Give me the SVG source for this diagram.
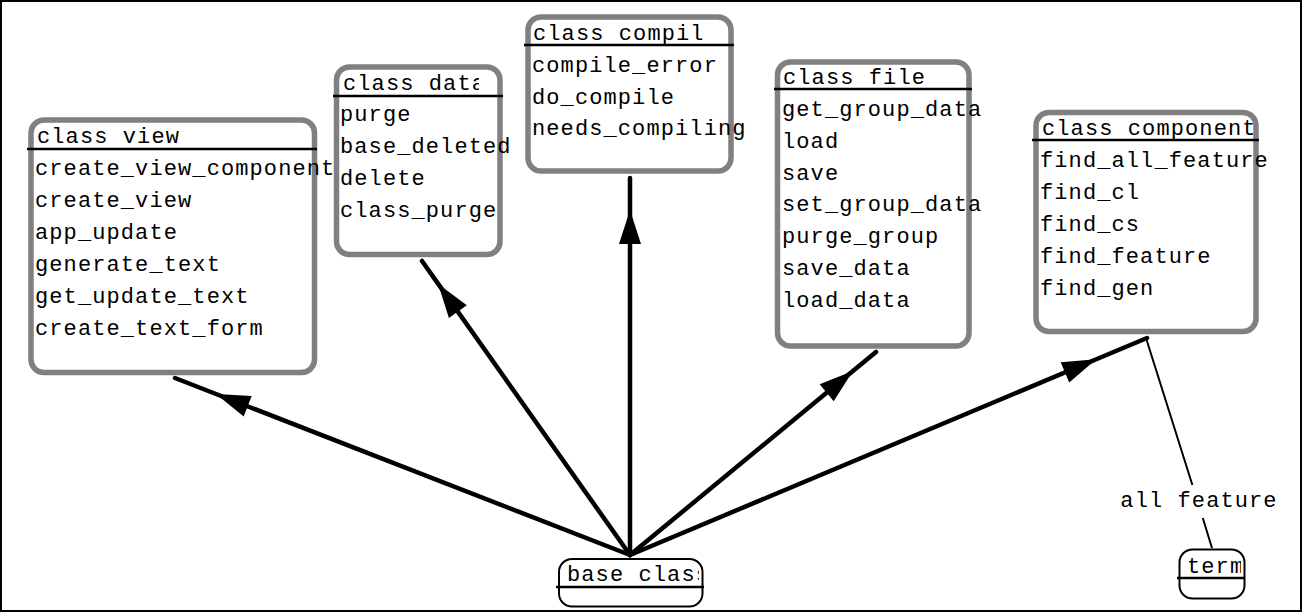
<svg xmlns="http://www.w3.org/2000/svg" width="1309" height="612" viewBox="0 0 1309 612">
<style>
.box{fill:#fff;stroke:#808080;stroke-width:5.5}
.small{fill:#fff;stroke:#000;stroke-width:2}
.hdr{stroke:#000;stroke-width:2.5}
.t{font-family:"Liberation Mono","DejaVu Sans Mono",monospace;font-size:22px;letter-spacing:1.1px;fill:#000}
.edge{fill:none;stroke:#000;stroke-width:4.5;stroke-linecap:round;stroke-linejoin:round}
.thin{fill:none;stroke:#000;stroke-width:2}
</style>
<defs>
<marker id="ah" markerUnits="userSpaceOnUse" orient="auto" viewBox="-36 -12 37 24" refX="0" refY="0" markerWidth="37" markerHeight="24" overflow="visible">
<path d="M0,0 L-34,-11 L-34,11 Z" fill="#000"/>
</marker>
<clipPath id="cData"><rect x="336" y="67" width="143" height="29"/></clipPath>
<clipPath id="cComp"><rect x="1036" y="112" width="217" height="28"/></clipPath>
<clipPath id="cBase"><rect x="559" y="559" width="140" height="28"/></clipPath>
<clipPath id="cTerm"><rect x="1180" y="550" width="61" height="28"/></clipPath>
</defs>
<rect x="1" y="1" width="1300" height="610" fill="#fff" stroke="#000" stroke-width="2"/>

<g id="connectors">
<path class="edge" d="M630,555 L216,394 L175,378" marker-mid="url(#ah)"/>
<path class="edge" d="M630,555 L438.2,283.9 L422,261" marker-mid="url(#ah)"/>
<path class="edge" d="M630,555 L630,210 L630,178" marker-mid="url(#ah)"/>
<path class="edge" d="M630,555 L852.9,371.1 L876,352" marker-mid="url(#ah)"/>
<path class="edge" d="M630,555 L1096.3,359.3 L1147,338" marker-mid="url(#ah)"/>
<path class="thin" d="M1146,338 L1192.4,485 M1202.8,518 L1212,548"/>
<text class="t" x="1199" y="507" text-anchor="middle">all feature</text>
</g>

<g id="class_view">
<rect class="box" x="31" y="120" width="283.5" height="252.5" rx="13"/>
<line class="hdr" x1="27" y1="149" x2="317" y2="149"/>
<text class="t" x="37" y="143">class view</text>
<text class="t" x="35" y="175">create_view_component</text>
<text class="t" x="35" y="207">create_view</text>
<text class="t" x="35" y="239">app_update</text>
<text class="t" x="35" y="271">generate_text</text>
<text class="t" x="35" y="303">get_update_text</text>
<text class="t" x="35" y="335">create_text_form</text>
</g>

<g id="class_data">
<rect class="box" x="336.5" y="67" width="163.5" height="187.5" rx="13"/>
<line class="hdr" x1="333" y1="96" x2="503" y2="96"/>
<text class="t" x="343" y="90" clip-path="url(#cData)">class data</text>
<text class="t" x="340" y="121">purge</text>
<text class="t" x="340" y="153">base_deleted</text>
<text class="t" x="340" y="185">delete</text>
<text class="t" x="340" y="217">class_purge</text>
</g>

<g id="class_compil">
<rect class="box" x="528" y="17" width="203" height="154" rx="13"/>
<line class="hdr" x1="524" y1="45" x2="734" y2="45"/>
<text class="t" x="533" y="40">class compil</text>
<text class="t" x="532" y="72">compile_error</text>
<text class="t" x="532" y="103.5">do_compile</text>
<text class="t" x="532" y="135">needs_compiling</text>
</g>

<g id="class_file">
<rect class="box" x="777.5" y="62" width="191.5" height="284" rx="13"/>
<line class="hdr" x1="774" y1="89" x2="972" y2="89"/>
<text class="t" x="783" y="84">class file</text>
<text class="t" x="782" y="116">get_group_data</text>
<text class="t" x="782" y="147.8">load</text>
<text class="t" x="782" y="179.6">save</text>
<text class="t" x="782" y="211.4">set_group_data</text>
<text class="t" x="782" y="243.2">purge_group</text>
<text class="t" x="782" y="275">save_data</text>
<text class="t" x="782" y="306.8">load_data</text>
</g>

<g id="class_component">
<rect class="box" x="1036" y="112.5" width="220" height="219" rx="13"/>
<line class="hdr" x1="1032" y1="140" x2="1259" y2="140"/>
<text class="t" x="1042" y="135" clip-path="url(#cComp)">class component</text>
<text class="t" x="1040" y="167">find_all_feature</text>
<text class="t" x="1040" y="199">find_cl</text>
<text class="t" x="1040" y="231">find_cs</text>
<text class="t" x="1040" y="263">find_feature</text>
<text class="t" x="1040" y="295">find_gen</text>
</g>

<g id="base_class">
<rect class="small" x="559" y="559" width="143.5" height="47.5" rx="13"/>
<line class="hdr" x1="556" y1="587" x2="704" y2="587"/>
<text class="t" x="567" y="581" clip-path="url(#cBase)">base class</text>
</g>

<g id="term">
<rect class="small" x="1179.5" y="549.5" width="65" height="49" rx="13"/>
<line class="hdr" x1="1177" y1="578" x2="1245" y2="578"/>
<text class="t" x="1187" y="573" clip-path="url(#cTerm)">term</text>
</g>
</svg>
